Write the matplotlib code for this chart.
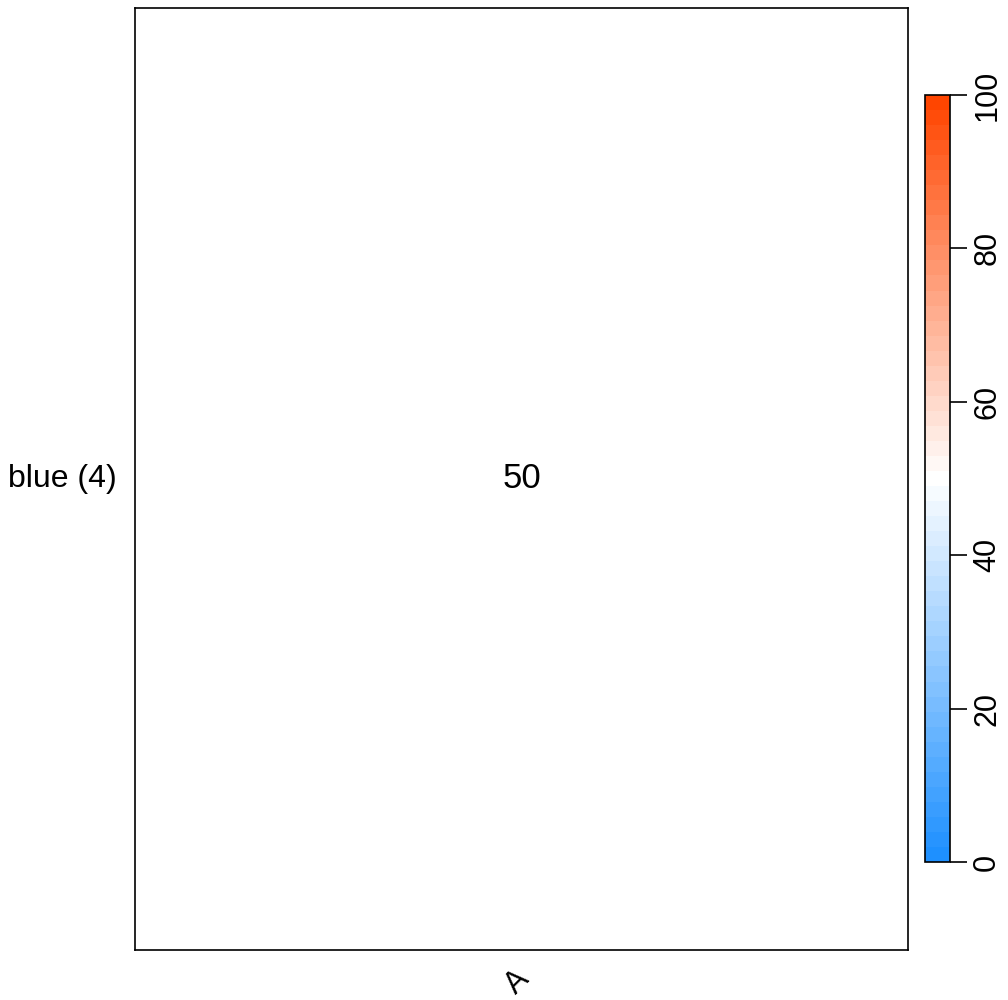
import numpy as np
import matplotlib.pyplot as plt
from matplotlib.colors import LinearSegmentedColormap

plt.rcParams['font.family'] = ['Liberation Sans', 'DejaVu Sans']

# data
row_labels = ['blue (4)']
col_labels = ['A']
values = np.array([[50]])
vmin, vmax = 0, 100
cbar_ticks = [0, 20, 40, 60, 80, 100]

cmap = LinearSegmentedColormap.from_list('bwr2', ['#1E90FF', '#FFFFFF', '#FF4500'], N=51)

fig = plt.figure(figsize=(10.08, 10), dpi=100)
ax = fig.add_axes([135/1008, 50/1000, 773/1008, 942/1000])
im = ax.imshow(values, cmap=cmap, vmin=vmin, vmax=vmax, aspect='auto')
for i in range(values.shape[0]):
    for j in range(values.shape[1]):
        ax.text(j, i, str(values[i, j]), ha='center', va='center', fontsize=25)

ax.set_xticks([])
ax.set_yticks([])
for s in ax.spines.values():
    s.set_linewidth(1.2)

# row / col labels
for i, lab in enumerate(row_labels):
    ax.text(-0.023, 1 - (i + 0.5) / len(row_labels), lab, transform=ax.transAxes,
            ha='right', va='center', fontsize=23)
for j, lab in enumerate(col_labels):
    ax.text((j + 0.5) / len(col_labels) + 0.004, -0.026, lab, transform=ax.transAxes,
            ha='right', va='center', rotation=45, rotation_mode='anchor', fontsize=22)

# colorbar
cax = fig.add_axes([925/1008, 138/1000, 25/1008, 767/1000])
cb = fig.colorbar(im, cax=cax, ticks=cbar_ticks)
cb.outline.set_linewidth(1.2)
cax.tick_params(length=12, width=1.2, pad=4, labelsize=22, labelrotation=90)
for t in cax.get_yticklabels():
    t.set_va('center')

fig.savefig('out.png', dpi=100)
